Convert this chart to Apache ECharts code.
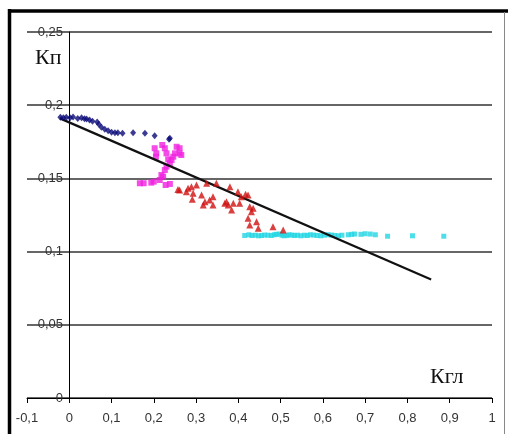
<!DOCTYPE html>
<html>
<head>
<meta charset="utf-8">
<script src="https://cdn.jsdelivr.net/npm/echarts@6/dist/echarts.min.js"></script>
<style>html,body{margin:0;padding:0;background:#fff;}#c{width:508px;height:434px;}</style>
</head>
<body>
<div id="c"></div>
<script>
// Series 1: dark blue diamonds
const blueX = [-0.021,-0.014,-0.007,0.002,0.009,0.02,0.029,0.036,0.041,0.048,0.055,0.066,0.07,0.076,0.084,0.092,0.1,0.108,0.115,0.126,0.151,0.179,0.202,0.236,0.238];
const blueY = [0.1917,0.1915,0.1917,0.1914,0.192,0.191,0.1915,0.1908,0.1906,0.1899,0.189,0.1885,0.187,0.185,0.1835,0.1826,0.1815,0.1812,0.1812,0.1808,0.1812,0.1808,0.1792,0.1767,0.1775];
// Series 2: magenta squares
const pinkX = [0.167,0.176,0.194,0.2,0.222,0.228,0.238,0.202,0.206,0.205,0.22,0.226,0.23,0.234,0.238,0.242,0.246,0.25,0.254,0.261,0.261,0.265,0.23,0.226,0.218,0.214];
const pinkY = [0.1467,0.1467,0.1471,0.1478,0.1512,0.1455,0.1462,0.1706,0.1671,0.1648,0.1728,0.1706,0.1671,0.163,0.1603,0.1626,0.1648,0.1671,0.1716,0.1706,0.1671,0.166,0.158,0.1557,0.1523,0.1489];
// Series 3: red triangles
const redX = [0.257,0.261,0.277,0.281,0.289,0.301,0.293,0.291,0.313,0.317,0.321,0.325,0.332,0.34,0.34,0.348,0.368,0.372,0.376,0.38,0.384,0.388,0.399,0.403,0.407,0.417,0.423,0.427,0.431,0.435,0.423,0.427,0.443,0.447,0.482,0.506];
const redY = [0.1425,0.1421,0.1409,0.1432,0.1443,0.1455,0.1398,0.1357,0.1387,0.1318,0.1341,0.1467,0.1352,0.1375,0.1318,0.1467,0.133,0.1341,0.1318,0.1443,0.1284,0.133,0.1409,0.133,0.1375,0.1392,0.1387,0.1307,0.1273,0.1296,0.1227,0.1182,0.1204,0.1159,0.117,0.1148];
// Series 4: cyan squares
const cyanX = [0.415,0.425,0.432,0.44,0.448,0.455,0.462,0.47,0.478,0.485,0.49,0.497,0.503,0.508,0.515,0.52,0.527,0.533,0.54,0.548,0.556,0.563,0.57,0.578,0.586,0.595,0.603,0.612,0.62,0.628,0.637,0.645,0.66,0.668,0.675,0.69,0.7,0.712,0.724,0.753,0.812,0.886];
const cyanY = [0.111,0.1115,0.111,0.1112,0.1108,0.111,0.1113,0.1112,0.111,0.1115,0.1118,0.112,0.1112,0.1108,0.111,0.1115,0.1113,0.111,0.1112,0.1108,0.1112,0.111,0.1115,0.1113,0.111,0.1108,0.1112,0.1115,0.1113,0.111,0.1108,0.1112,0.1115,0.1118,0.112,0.1118,0.1122,0.112,0.1115,0.1105,0.1108,0.1105];
// Trend line
const trendX = [-0.022, 0.856];
const trendY = [0.191, 0.081];
// Axis ticks
const xTicks = [-0.1,0,0.1,0.2,0.3,0.4,0.5,0.6,0.7,0.8,0.9,1];
const yTicks = [0,0.05,0.1,0.15,0.2,0.25];

const zip = (xs, ys) => xs.map((x, i) => [x, ys[i]]);
const fmt = v => String(Math.round(v*100)/100).replace('.', ',');

const chart = echarts.init(document.getElementById('c'), null, {renderer: 'canvas'});
chart.setOption({
  animation: false,
  backgroundColor: '#fff',
  grid: {left: 27, right: 16, top: 32, bottom: 36},
  xAxis: {
    type: 'value', min: xTicks[0], max: xTicks[xTicks.length-1], interval: 0.1,
    axisLine: {show: true, onZero: false, lineStyle: {color: '#000', width: 1}},
    axisTick: {show: true, length: 5, inside: false, lineStyle: {color: '#000'}},
    axisLabel: {formatter: fmt, color: '#333', fontSize: 13, fontFamily: 'Liberation Sans, Arial', margin: 14},
    splitLine: {show: false}
  },
  yAxis: {
    type: 'value', min: yTicks[0], max: yTicks[yTicks.length-1], interval: 0.05,
    axisLine: {show: true, onZero: true, lineStyle: {color: '#000', width: 1}},
    axisTick: {show: false},
    axisLabel: {formatter: fmt, color: '#333', fontSize: 13, fontFamily: 'Liberation Sans, Arial', margin: -36, verticalAlign: 'middle'},
    splitLine: {show: true, lineStyle: {color: '#333', width: 1.5}}
  },
  graphic: [
    {type: 'line', shape: {x1: 9.5, y1: 11, x2: 508, y2: 11}, style: {stroke: '#000', lineWidth: 3.5}},
    {type: 'line', shape: {x1: 9.5, y1: 9, x2: 9.5, y2: 434}, style: {stroke: '#000', lineWidth: 3.5}},
    {type: 'line', shape: {x1: 504.5, y1: 12, x2: 504.5, y2: 434}, style: {stroke: '#888', lineWidth: 1}},
    {type: 'text', left: 35, top: 47, style: {text: 'Кп', font: '22px "Liberation Serif", "Times New Roman", serif', fill: '#111'}},
    {type: 'text', left: 430, top: 366, style: {text: 'Кгл', font: '22px "Liberation Serif", "Times New Roman", serif', fill: '#111'}}
  ],
  series: [
    {type: 'line', data: zip(trendX, trendY), symbol: 'none', lineStyle: {color: '#111', width: 2.2}, z: 3},
    {type: 'scatter', data: zip(blueX, blueY), symbol: 'diamond', symbolSize: [6, 7], itemStyle: {color: '#0a0a78'}, z: 4},
    {type: 'scatter', data: zip(pinkX, pinkY), symbol: 'rect', symbolSize: 6, itemStyle: {color: '#f020e0'}, z: 2},
    {type: 'scatter', data: zip(redX, redY), symbol: 'triangle', symbolSize: 7, itemStyle: {color: '#d01010'}, z: 4},
    {type: 'scatter', data: zip(cyanX, cyanY), symbol: 'rect', symbolSize: 5, itemStyle: {color: '#22d6e4'}, z: 2}
  ]
});
</script>
</body>
</html>
